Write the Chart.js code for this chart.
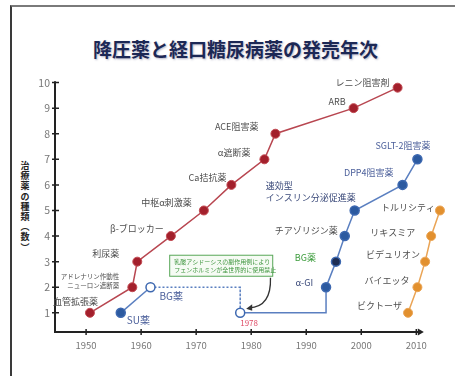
<!DOCTYPE html>
<html lang="ja">
<head>
<meta charset="utf-8">
<script src="https://cdn.jsdelivr.net/npm/chart.js@4.4.1/dist/chart.umd.min.js"></script>
<style>
  html, body { margin: 0; padding: 0; background: #fff; }
  #wrap { position: relative; width: 455px; height: 376px; overflow: hidden; font-family: "Noto Sans CJK JP", "Noto Sans", sans-serif; }
  #frame { position: absolute; left: 10px; top: 5px; right: -4px; bottom: -4px; border-left: 2px solid #3a3a3a; border-top: 2px solid #7a7a7a; }
  #title { position: absolute; left: 8px; top: 35px; width: 455px; text-align: center; font-weight: 700; font-size: 19px; color: #1c2855; text-shadow: 1px 1px 2px rgba(90, 90, 130, 0.45); }
  #ytitle { position: absolute; left: 19px; top: 161px; width: 12px; font-weight: 700; font-size: 9px; color: #222; }
  #ytitle span { display: block; height: 10.2px; line-height: 10.2px; text-align: center; }
  canvas { position: absolute; left: 0; top: 0; }
</style>
</head>
<body>
<div id="wrap">
  <div id="frame"></div>
  <div id="title">降圧薬と経口糖尿病薬の発売年次</div>
  <div id="ytitle"></div>
  <canvas id="chart" width="455" height="376"></canvas>
</div>
<script>
// 降圧薬
const htnYears = [1950.7, 1958.4, 1959.3, 1965.4, 1971.4, 1976.4, 1982.4, 1984.4, 1998.6, 2006.6];
const htnCounts = [1, 2, 3, 4, 5, 6, 7, 8, 9, 9.8];
const htnNames = ["血管拡張薬", ["アドレナリン作動性", "ニューロン遮断薬"], "利尿薬", "β-ブロッカー", "中枢α刺激薬",
  "Ca拮抗薬", "α遮断薬", "ACE阻害薬", "ARB", "レニン阻害剤"];

// 経口糖尿病薬 (BG薬は1978年に一旦中止)
const dmYears = [1956.3, 1961.7, 1978, 1978, 1993.6, 1993.6, 1995.4, 1997.0, 1998.8, 2007.5, 2010.2];
const dmCounts = [1, 2, 2, 1, 1, 2, 3, 4, 5, 6, 7];
const dmNames = ["SU薬", "BG薬", "", "1978", "", "α-GI", "BG薬", "チアゾリジン薬",
  ["速効型", "インスリン分泌促進薬"], "DPP4阻害薬", "SGLT-2阻害薬"];

// GLP-1
const glpYears = [2008.5, 2010.2, 2011.6, 2012.7, 2014.3];
const glpCounts = [1, 2, 3, 4, 5];
const glpNames = ["ビクトーザ", "バイエッタ", "ビデュリオン", "リキスミア", "トルリシティ"];

const xTicks = [1950, 1960, 1970, 1980, 1990, 2000, 2010];
const yTicks = [1, 2, 3, 4, 5, 6, 7, 8, 9, 10];
const yTitle = "治療薬の種類︵数︶";

const noteLines = ["乳酸アシドーシスの副作用例により", "フェンホルミンが全世界的に使用禁止"];

// label placement: [dx, dy, align, color, size]
const htnLabelPos = [
  [8, -11, "right"], [-13, -6, "right", null, 6.5], [-18, -8, "right"], [-7, -7, "right"], [-12, -8, "right"],
  [-5, -7, "right"], [-14, -7, "right"], [-17, -7, "right"], [-8, -7, "right"], [-8, -5, "right"]
];
const dmLabelPos = [
  [6, 7, "left", "#4b5f9a", 10], [9, 9, "left", "#4b5f9a", 10], null, [0, 10, "left", "#e0506a", 8], null,
  [-13, -5, "right", "#3b4a7a"], [-20, -4, "right", "#3c9c3c"], [-7, -5, "right"],
  [-89, -19, "left", "#3b4a7a"], [-9, -12, "right", "#4b5f9a"], [13, -14, "right", "#4b5f9a"]
];
const glpLabelPos = [[-6, -7, "right"], [-8, -7, "right"], [-5, -7, "right"], [-16, -3, "right"], [-5, -3, "right"]];

// vertical axis title, one character per row
const yTitleBox = document.getElementById("ytitle");
[...yTitle].forEach(ch => {
  const s = document.createElement("span");
  s.textContent = ch;
  yTitleBox.appendChild(s);
});

const toPoints = (xs, ys) => xs.map((v, i) => ({ x: v, y: ys[i] }));

const nameLabels = {
  id: "nameLabels",
  afterDatasetsDraw(chart) {
    const ctx = chart.ctx;
    ctx.save();
    chart.data.datasets.forEach((ds, di) => {
      const meta = chart.getDatasetMeta(di);
      ds.names.forEach((name, i) => {
        const pos = ds.labelPos[i];
        if (!name || !pos) return;
        const [dx, dy, align, color, size] = pos;
        const p = meta.data[i];
        const fs = size || 9;
        const lines = Array.isArray(name) ? name : [name];
        const lh = fs + 2.5;
        ctx.font = `${fs}px "Noto Sans CJK JP", sans-serif`;
        ctx.fillStyle = color || "#4e4e4e";
        ctx.textAlign = align;
        ctx.textBaseline = "middle";
        lines.forEach((t, k) => {
          ctx.fillText(t, p.x + dx, p.y + dy + (k - (lines.length - 1) / 2) * lh);
        });
      });
    });
    ctx.restore();
  }
};

const axisLines = {
  id: "axisLines",
  beforeDatasetsDraw(chart) {
    const { ctx, scales: { x, y } } = chart;
    const x0 = x.left, yb = y.bottom;
    const xEnd = x.getPixelForValue(2011);
    ctx.save();
    ctx.strokeStyle = "#222";
    ctx.lineWidth = 2;
    ctx.beginPath();
    ctx.moveTo(x0, y.getPixelForValue(10.05));
    ctx.lineTo(x0, yb);
    ctx.lineTo(xEnd, yb);
    ctx.stroke();
    ctx.lineWidth = 1.5;
    ctx.beginPath();
    yTicks.forEach(v => {
      const py = y.getPixelForValue(v);
      ctx.moveTo(x0 - 3, py); ctx.lineTo(x0 + 4, py);
    });
    xTicks.forEach(v => {
      const px = x.getPixelForValue(v);
      ctx.moveTo(px, yb - 3); ctx.lineTo(px, yb + 3);
    });
    ctx.stroke();
    ctx.fillStyle = "#222";
    ctx.beginPath();
    ctx.moveTo(xEnd + 2, yb); ctx.lineTo(xEnd - 4, yb - 3.5); ctx.lineTo(xEnd - 4, yb + 3.5);
    ctx.closePath();
    ctx.fill();
    ctx.restore();
  }
};

// BG薬中止の注記
const noteBox = {
  id: "noteBox",
  afterDatasetsDraw(chart) {
    const { ctx, scales: { x, y } } = chart;
    const l = x.getPixelForValue(1965.1), r = x.getPixelForValue(1984.0);
    const t = y.getPixelForValue(3.27), b = y.getPixelForValue(2.41);
    ctx.save();
    ctx.fillStyle = "#f6fbf4";
    ctx.strokeStyle = "#5aa85a";
    ctx.lineWidth = 1;
    ctx.fillRect(l, t, r - l, b - t);
    ctx.strokeRect(l + 0.5, t + 0.5, r - l - 1, b - t - 1);
    ctx.fillStyle = "#3f963f";
    ctx.font = '6px "Noto Sans CJK JP", sans-serif';
    ctx.textAlign = "left";
    ctx.textBaseline = "middle";
    noteLines.forEach((s, k) => ctx.fillText(s, l + 5, t + 7 + k * 8));
    // arrow to the 1978 point
    const sx = x.getPixelForValue(1983.5), sy = b + 1;
    const ex = x.getPixelForValue(1978) + 6, ey = y.getPixelForValue(1) - 4;
    ctx.strokeStyle = "#333";
    ctx.lineWidth = 1.3;
    ctx.beginPath();
    ctx.moveTo(sx, sy);
    ctx.quadraticCurveTo(sx + 1, ey - 2, ex + 3, ey - 1);
    ctx.stroke();
    ctx.fillStyle = "#333";
    ctx.beginPath();
    ctx.moveTo(ex, ey);
    ctx.lineTo(ex + 6, ey - 4.5);
    ctx.lineTo(ex + 6, ey + 2);
    ctx.closePath();
    ctx.fill();
    ctx.restore();
  }
};

const dmPointFill = dmYears.map((_, i) => i === 1 || i === 3 ? "#ffffff" : i === 6 ? "#1c2d55" : "#2c5aa0");
const dmPointRadius = dmYears.map((_, i) => i === 2 || i === 4 ? 0 : 4.5);

Chart.defaults.font.family = '"Noto Sans CJK JP", "Noto Sans", sans-serif';

new Chart(document.getElementById("chart"), {
  type: "line",
  data: {
    datasets: [
      {
        data: toPoints(htnYears, htnCounts),
        names: htnNames,
        labelPos: htnLabelPos,
        borderColor: "#b84650",
        borderWidth: 1.5,
        pointRadius: 4.5,
        pointBackgroundColor: "#a3202c",
        pointBorderColor: "#c24a52",
        pointBorderWidth: 1,
      },
      {
        data: toPoints(dmYears, dmCounts),
        names: dmNames,
        labelPos: dmLabelPos,
        borderColor: "#5a7fc0",
        borderWidth: 1.5,
        pointRadius: dmPointRadius,
        pointBackgroundColor: dmPointFill,
        pointBorderColor: "#3d68b0",
        pointBorderWidth: 1.5,
        segment: {
          borderDash: ctx => (ctx.p0DataIndex === 1 || ctx.p0DataIndex === 2) ? [2, 2] : undefined,
        },
      },
      {
        data: toPoints(glpYears, glpCounts),
        names: glpNames,
        labelPos: glpLabelPos,
        borderColor: "#eaa455",
        borderWidth: 1.5,
        pointRadius: 4.5,
        pointBackgroundColor: "#e2902e",
        pointBorderColor: "#eaa455",
        pointBorderWidth: 1,
      },
    ],
  },
  options: {
    responsive: false,
    animation: false,
    layout: { padding: { left: 25, right: 3, top: 80, bottom: 14 } },
    plugins: { legend: { display: false }, tooltip: { enabled: false } },
    scales: {
      x: {
        type: "linear",
        min: 1944.35,
        max: 2015.94,
        grid: { display: false, drawTicks: false },
        border: { display: false },
        afterBuildTicks: scale => { scale.ticks = xTicks.map(v => ({ value: v })); },
        afterFit: scale => { scale.height = 30; },
        ticks: { padding: 8, color: "#777", font: { size: 9.5 }, maxRotation: 0, callback: v => String(v) },
      },
      y: {
        type: "linear",
        min: 0.25,
        max: 10.1,
        grid: { display: false, drawTicks: false },
        border: { display: false },
        afterBuildTicks: scale => { scale.ticks = yTicks.map(v => ({ value: v })); },
        afterFit: scale => { scale.width = 30; },
        ticks: { padding: 5, color: "#777", font: { size: 10.5 } },
      },
    },
  },
  plugins: [axisLines, noteBox, nameLabels],
});
</script>
</body>
</html>
